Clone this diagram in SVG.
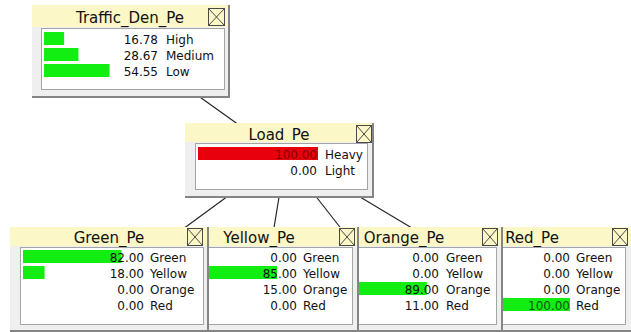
<svg xmlns="http://www.w3.org/2000/svg" width="631" height="332" viewBox="0 0 631 332">
<style>
.bg{fill:#ffffff}
.body{fill:#efefef}
.edge{fill:none;stroke:#858585;stroke-width:2}
.title{fill:#fbf7c6}
.panel{fill:#ffffff;stroke:#a4a4a4;stroke-width:1}
.xbox{fill:none;stroke:#4a4a4a;stroke-width:1}
.bg-g{fill:#12ee12}
.bg-r{fill:#e8000c}
.t{font-family:"DejaVu Sans",Verdana,sans-serif;font-size:12px;fill:#111}
.num{text-anchor:end}
.h{font-size:15px;text-anchor:middle}
.link{stroke:#262626;stroke-width:1.2;fill:none}
</style>
<rect class="bg" x="0" y="0" width="631" height="332"/>
<g id="connectors">
<line class="link" x1="183" y1="85" x2="253" y2="135"/>
<line class="link" x1="243" y1="185" x2="168" y2="240"/>
<line class="link" x1="281" y1="185" x2="272" y2="240"/>
<line class="link" x1="307" y1="185" x2="350" y2="240"/>
<line class="link" x1="340" y1="185" x2="432" y2="240"/>
</g>
<g id="traffic_den_pe">
<rect class="body" x="32" y="5" width="197" height="92"/>
<path class="edge" d="M229,5 V97 H32"/>
<rect class="title" x="32" y="5" width="196" height="22"/>
<text class="t h" x="130" y="23">Traffic_Den_Pe</text>
<g class="xbox"><rect x="208.5" y="8.5" width="16" height="17"/><path d="M208.5,8.5 L224.5,25.5 M224.5,8.5 L208.5,25.5"/></g>
<rect class="panel" x="41.5" y="28.5" width="183" height="61"/>
<rect class="bg-g" x="44" y="32" width="20.1" height="13"/>
<rect class="bg-g" x="44" y="48" width="34.4" height="13"/>
<rect class="bg-g" x="44" y="64" width="65.5" height="13"/>
<text class="t num" x="158" y="43.5">16.78</text><text class="t" x="166" y="43.5">High</text>
<text class="t num" x="158" y="59.5">28.67</text><text class="t" x="166" y="59.5">Medium</text>
<text class="t num" x="158" y="75.5">54.55</text><text class="t" x="166" y="75.5">Low</text>
</g>
<g id="load_pe">
<rect class="body" x="185" y="123" width="188" height="74"/>
<path class="edge" d="M373,123 V197 H185"/>
<rect class="title" x="185" y="123" width="187" height="19"/>
<text class="t h" x="279" y="139.5">Load_Pe</text>
<g class="xbox"><rect x="356.5" y="125.5" width="15" height="17"/><path d="M356.5,125.5 L371.5,142.5 M371.5,125.5 L356.5,142.5"/></g>
<rect class="panel" x="195.5" y="143.5" width="172" height="46"/>
<rect class="bg-r" x="198" y="147" width="120" height="13"/>
<text class="t num" x="317" y="158.5" style="fill:#800000">100.00</text><text class="t" x="325" y="158.5">Heavy</text>
<text class="t num" x="317" y="174.5">0.00</text><text class="t" x="325" y="174.5">Light</text>
</g>
<g id="red_pe">
<rect class="body" x="437" y="227" width="196" height="104"/>
<path class="edge" d="M437,331 H633"/>
<rect class="title" x="437" y="227" width="196" height="19"/>
<text class="t h" x="532" y="243">Red_Pe</text>
<g class="xbox"><rect x="612.5" y="228.5" width="15" height="17"/><path d="M612.5,228.5 L627.5,245.5 M627.5,228.5 L612.5,245.5"/></g>
<rect class="panel" x="447.5" y="247.5" width="178" height="77"/>
<rect class="bg-g" x="450" y="298" width="120" height="13"/>
<text class="t num" x="570" y="261.5">0.00</text><text class="t" x="576" y="261.5">Green</text>
<text class="t num" x="570" y="277.5">0.00</text><text class="t" x="576" y="277.5">Yellow</text>
<text class="t num" x="570" y="293.5">0.00</text><text class="t" x="576" y="293.5">Orange</text>
<text class="t num" x="570" y="309.5" style="fill:#0c560c">100.00</text><text class="t" x="576" y="309.5">Red</text>
</g>
<g id="orange_pe">
<rect class="body" x="307" y="227" width="195" height="104"/>
<path class="edge" d="M502,227 V331 H307"/>
<rect class="title" x="307" y="227" width="194" height="19"/>
<text class="t h" x="404" y="243">Orange_Pe</text>
<g class="xbox"><rect x="482.5" y="228.5" width="15" height="17"/><path d="M482.5,228.5 L497.5,245.5 M497.5,228.5 L482.5,245.5"/></g>
<rect class="panel" x="317.5" y="247.5" width="179" height="77"/>
<rect class="bg-g" x="320" y="282" width="106.8" height="13"/>
<text class="t num" x="439" y="261.5">0.00</text><text class="t" x="446" y="261.5">Green</text>
<text class="t num" x="439" y="277.5">0.00</text><text class="t" x="446" y="277.5">Yellow</text>
<text class="t num" x="439" y="293.5">89.00</text><text class="t" x="446" y="293.5">Orange</text>
<text class="t num" x="439" y="309.5">11.00</text><text class="t" x="446" y="309.5">Red</text>
</g>
<g id="yellow_pe">
<rect class="body" x="162" y="227" width="196" height="104"/>
<path class="edge" d="M358,227 V331 H162"/>
<rect class="title" x="162" y="227" width="195" height="19"/>
<text class="t h" x="259" y="243">Yellow_Pe</text>
<g class="xbox"><rect x="339.5" y="228.5" width="15" height="17"/><path d="M339.5,228.5 L354.5,245.5 M354.5,228.5 L339.5,245.5"/></g>
<rect class="panel" x="172.5" y="247.5" width="180" height="77"/>
<rect class="bg-g" x="175" y="266" width="102" height="13"/>
<text class="t num" x="297" y="261.5">0.00</text><text class="t" x="303" y="261.5">Green</text>
<text class="t num" x="297" y="277.5">85.00</text><text class="t" x="303" y="277.5">Yellow</text>
<text class="t num" x="297" y="293.5">15.00</text><text class="t" x="303" y="293.5">Orange</text>
<text class="t num" x="297" y="309.5">0.00</text><text class="t" x="303" y="309.5">Red</text>
</g>
<g id="green_pe">
<rect class="body" x="10" y="227" width="198" height="104"/>
<path class="edge" d="M208,227 V331 H10"/>
<rect class="title" x="10" y="227" width="197" height="19"/>
<text class="t h" x="109" y="243">Green_Pe</text>
<g class="xbox"><rect x="187.5" y="228.5" width="15" height="17"/><path d="M187.5,228.5 L202.5,245.5 M202.5,228.5 L187.5,245.5"/></g>
<rect class="panel" x="20.5" y="247.5" width="183" height="77"/>
<rect class="bg-g" x="23" y="250" width="98.4" height="13"/>
<rect class="bg-g" x="23" y="266" width="21.6" height="13"/>
<text class="t num" x="144" y="261.5">82.00</text><text class="t" x="150" y="261.5">Green</text>
<text class="t num" x="144" y="277.5">18.00</text><text class="t" x="150" y="277.5">Yellow</text>
<text class="t num" x="144" y="293.5">0.00</text><text class="t" x="150" y="293.5">Orange</text>
<text class="t num" x="144" y="309.5">0.00</text><text class="t" x="150" y="309.5">Red</text>
</g>
</svg>
